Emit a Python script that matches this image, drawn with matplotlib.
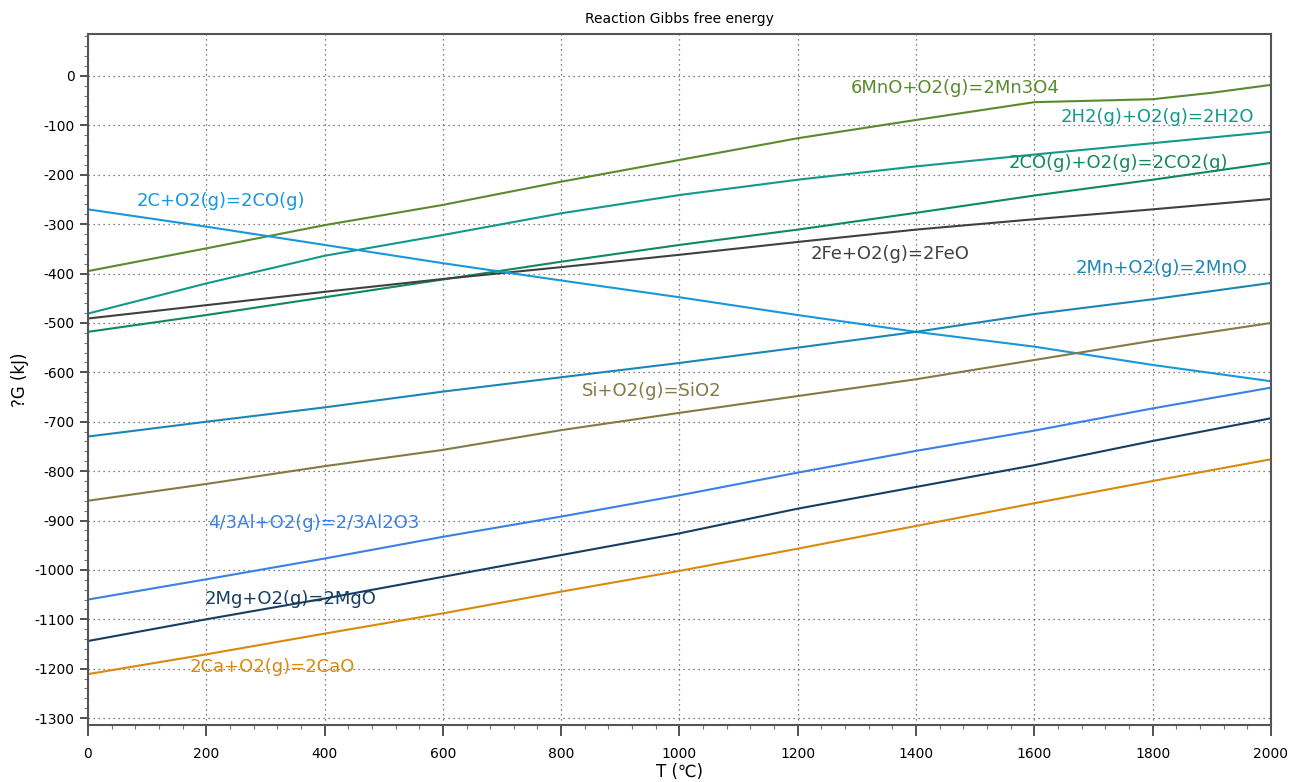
import numpy as np
import matplotlib
matplotlib.use('Agg')
import matplotlib.pyplot as plt
from matplotlib.ticker import MultipleLocator

plt.rcParams['font.family'] = ['DejaVu Sans']
plt.rcParams['axes.unicode_minus'] = False

# temperature grid (degC) used for most reactions
T = [0, 200, 400, 600, 800, 1000, 1200, 1400, 1600, 1800, 2000]

# reaction Gibbs energies (kJ)
g_C_CO = [-270, -305, -342, -379, -414, -448, -484, -518, -548, -585, -618]
g_H2_H2O = [-481, -420, -364, -322, -278, -241, -210, -183, -159, -136, -113]
g_CO_CO2 = [-518, -484, -448, -412, -376, -342, -311, -277, -242, -210, -176]
g_Fe_FeO = [-491, -464, -437, -411, -387, -362, -336, -311, -290, -270, -249]
g_Mn_MnO = [-730, -700, -671, -639, -610, -581, -550, -518, -482, -452, -419]
g_Si_SiO2 = [-860, -826, -790, -757, -717, -682, -648, -614, -575, -536, -500]
g_Al_Al2O3 = [-1060, -1019, -977, -933, -892, -849, -803, -759, -718, -673, -631]
g_Mg_MgO = [-1144, -1100, -1058, -1014, -970, -926, -876, -832, -788, -739, -693]
g_Ca_CaO = [-1211, -1171, -1129, -1088, -1044, -1002, -957, -911, -865, -820, -776]

# 6MnO -> Mn3O4 has a flat part, so it gets its own points
T_MnO = [0, 200, 400, 600, 800, 1000, 1200, 1400, 1600, 1700, 1800, 1900, 2000]
g_MnO_Mn3O4 = [-395, -349, -302, -261, -214, -170, -126, -89, -53, -50, -47, -34, -18]

names = ['6MnO+O2(g)=2Mn3O4', '2H2(g)+O2(g)=2H2O', '2CO(g)+O2(g)=2CO2(g)',
         '2Fe+O2(g)=2FeO', '2C+O2(g)=2CO(g)', '2Mn+O2(g)=2MnO',
         'Si+O2(g)=SiO2', '4/3Al+O2(g)=2/3Al2O3', '2Mg+O2(g)=2MgO',
         '2Ca+O2(g)=2CaO']
temps = [T_MnO, T, T, T, T, T, T, T, T, T]
values = [g_MnO_Mn3O4, g_H2_H2O, g_CO_CO2, g_Fe_FeO, g_C_CO, g_Mn_MnO,
          g_Si_SiO2, g_Al_Al2O3, g_Mg_MgO, g_Ca_CaO]
colors = ['#5a8a2e', '#12998a', '#0f8a5a', '#404040', '#1797dc', '#1a86b8',
          '#857a45', '#3a80e6', '#163e62', '#d88a0c']
# label anchor (T, G), left aligned
label_pos = [(1290, -24), (1645, -83), (1557, -176), (1221, -360),
             (83, -253), (1669, -389), (835, -638), (203, -905),
             (198, -1059), (172, -1197)]

fig = plt.figure(figsize=(13.03, 7.82), dpi=100)
ax = fig.add_axes([0.0675, 0.0729, 0.9079, 0.8836])

for t, g, c in zip(temps, values, colors):
    ax.plot(t, g, color=c, linewidth=1.5)

for name, (tx, gy), c in zip(names, label_pos, colors):
    ax.text(tx, gy, name, color=c, fontsize=13, ha='left', va='center')

ax.set_xlim(0, 2000)
ax.set_ylim(-1314, 85)
ax.xaxis.set_major_locator(MultipleLocator(200))
ax.xaxis.set_minor_locator(MultipleLocator(40))
ax.yaxis.set_major_locator(MultipleLocator(100))
ax.yaxis.set_minor_locator(MultipleLocator(20))
ax.tick_params(which='major', direction='out', length=6, width=1.2,
               labelsize=10, colors='#333333', labelcolor='black')
ax.tick_params(axis='x', which='major', length=8, pad=8)
ax.tick_params(which='minor', direction='out', length=3, width=0.8,
               colors='#777777')
ax.grid(which='major', linestyle=(0, (1, 3)), color='#555555', linewidth=0.9)

for s in ax.spines.values():
    s.set_color('#555555')
    s.set_linewidth(1.5)

ax.set_title('Reaction Gibbs free energy', fontsize=10, pad=8)
ax.set_xlabel('T (℃)', fontsize=12, labelpad=1)
ax.set_ylabel('?G (kJ)', fontsize=12, labelpad=4)

plt.savefig('out.png', dpi=100)
